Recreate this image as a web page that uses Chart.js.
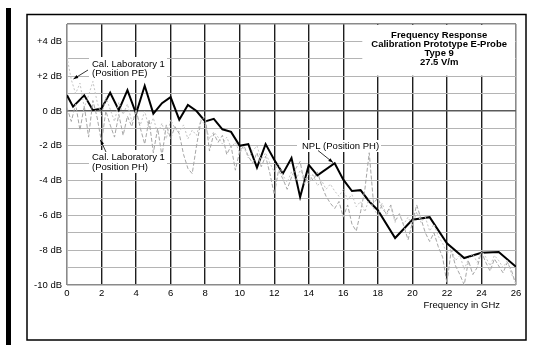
<!DOCTYPE html>
<html>
<head>
<meta charset="utf-8">
<script src="https://cdn.jsdelivr.net/npm/chart.js@4/dist/chart.umd.min.js"></script>
<style>
  html, body { margin: 0; padding: 0; background: #fff; }
  canvas { display: block; }
</style>
</head>
<body>
<canvas id="c" width="537" height="345"></canvas>
<script>
// NPL reference measurement (Position PH)
const nplFreq = [0, 0.35, 1.0, 1.5, 2.0, 2.5, 3.0, 3.5, 4.0, 4.5, 5.0, 5.5, 6.0, 6.5, 7.0, 7.5,
  8.0, 8.5, 9.0, 9.5, 10.0, 10.5, 11.0, 11.5, 12.0, 12.5, 13.0, 13.5, 14.0, 14.5, 15.5,
  16.0, 16.5, 17.0, 17.5, 18.0, 19.0, 20.0, 21.0, 22.0, 23.0, 24.0, 25.0, 26.0];
const nplDb = [0.9, 0.25, 0.9, 0.05, 0.15, 1.05, 0.05, 1.2, -0.15, 1.45, -0.15, 0.45, 0.8, -0.5, 0.35, 0.0,
  -0.6, -0.45, -1.05, -1.2, -2.0, -1.9, -3.25, -1.9, -2.8, -3.6, -2.7, -4.95, -3.1, -3.7, -3.0,
  -3.95, -4.6, -4.55, -5.2, -5.7, -7.3, -6.25, -6.1, -7.6, -8.45, -8.15, -8.1, -8.95];

// Cal. Laboratory 1 sweeps, sampled every 0.25 GHz from 0 to 26 GHz
const calFreq = Array.from({ length: 105 }, (_, i) => i * 0.25);
const calPhDb = [0.2, -0.6, 0.4, -1.1, 0.3, -1.5, 0.6, -0.4, -1.8, 0.0, -0.8, -1.5, -0.2, -1.4, -0.3, -0.9,
  0.1, -1.0, -1.9, -0.5, -2.4, -1.0, -2.6, -0.8, -1.6, -0.9, -1.3, -2.5, -3.3, -3.6, -2.0, -0.6,
  -0.3, -2.3, -1.3, -1.8, -1.4, -2.5, -2.0, -3.4, -2.3, -2.0, -2.6, -3.0, -2.4, -3.2, -2.6, -3.6,
  -4.8, -3.4, -3.9, -4.5, -3.8, -3.3, -2.9, -4.2, -3.6, -4.0, -3.5, -4.3, -4.9, -5.3, -5.6, -5.2,
  -6.1, -5.4, -6.5, -6.9, -5.8, -4.5, -2.4, -5.3, -5.0, -5.6, -5.9, -5.4, -6.3, -5.9, -6.6, -7.4,
  -6.4, -5.4, -6.2, -7.0, -7.5, -7.0, -7.8, -8.4, -9.9, -8.0, -8.9, -9.4, -10.0, -8.6, -9.4, -9.0,
  -8.1, -8.7, -9.2, -8.5, -8.9, -9.3, -8.7, -9.2, -10.0];
const calPeDb = [3.1, 1.8, 1.0, 1.6, 0.2, 0.9, 1.7, 0.5, -0.3, 0.8, 0.1, -0.6, 0.5, -0.2, 0.4, -0.6,
  -0.1, -0.8, 0.0, -1.0, -0.4, -1.3, -0.7, -1.6, -0.5, -1.0, -1.2, -0.8, -1.6, -1.1, -1.4, -0.5,
  -0.8, -1.6, -1.2, -1.5, -1.9, -1.5, -2.1, -1.8, -2.4, -2.1, -2.7, -2.3, -2.0, -2.8, -2.4, -3.0,
  -3.5, -3.0, -3.7, -4.1, -3.5, -4.0, -3.4, -3.8, -4.2, -3.6, -4.3, -4.0, -4.5, -4.2, -4.6, -4.9,
  -4.5, -5.1, -4.8, -5.5, -5.2, -5.8, -5.0, -5.6, -6.0, -5.3, -6.0, -5.5, -6.4, -5.9, -6.5, -6.1,
  -6.6, -5.8, -6.4, -6.1, -6.9, -6.5, -7.2, -7.6, -8.2, -7.9, -8.6, -8.3, -9.1, -8.5, -8.2, -8.7,
  -8.0, -8.4, -8.9, -8.3, -8.6, -9.0, -8.6, -9.4, -9.9];

const titleLines = ['Frequency Response', 'Calibration Prototype E-Probe', 'Type 9', '27.5 V/m'];

const pts = (xs, ys) => xs.map((x, i) => ({ x, y: ys[i] }));

const FONT = '"Liberation Sans", Arial, sans-serif';
Chart.defaults.font.family = FONT;
Chart.defaults.font.size = 9.5;
Chart.defaults.color = '#000';

function arrow(ctx, x1, y1, x2, y2) {
  ctx.save();
  ctx.strokeStyle = '#000';
  ctx.fillStyle = '#000';
  ctx.lineWidth = 0.8;
  ctx.beginPath();
  ctx.moveTo(x1, y1);
  ctx.lineTo(x2, y2);
  ctx.stroke();
  const a = Math.atan2(y2 - y1, x2 - x1);
  ctx.beginPath();
  ctx.moveTo(x2, y2);
  ctx.lineTo(x2 - 5 * Math.cos(a - 0.35), y2 - 5 * Math.sin(a - 0.35));
  ctx.lineTo(x2 - 5 * Math.cos(a + 0.35), y2 - 5 * Math.sin(a + 0.35));
  ctx.closePath();
  ctx.fill();
  ctx.restore();
}

// Page furniture: frame, side bar, title panel, callout labels
const decor = {
  id: 'decor',
  beforeDraw(chart) {
    const ctx = chart.ctx;
    ctx.save();
    ctx.fillStyle = '#fff';
    ctx.fillRect(0, 0, chart.width, chart.height);
    ctx.fillStyle = '#000';
    ctx.fillRect(6, 8, 5, 337);
    ctx.strokeStyle = '#000';
    ctx.lineWidth = 1.5;
    ctx.strokeRect(27, 14.5, 499, 325.5);
    ctx.restore();
  },
  beforeDatasetsDraw(chart) {
    const ctx = chart.ctx;
    const xs = chart.scales.x, ys = chart.scales.y;
    ctx.save();
    ctx.fillStyle = '#fff';
    // title panel
    const tl = xs.getPixelForValue(17.1);
    ctx.fillRect(tl, ys.getPixelForValue(5) + 1, xs.getPixelForValue(26) - tl - 1, ys.getPixelForValue(2) - ys.getPixelForValue(5) - 1.5);
    // label backgrounds
    ctx.fillRect(89, 57, 78, 23);
    ctx.fillRect(89, 150, 78, 23);
    ctx.fillRect(297, 140, 84, 12);
    ctx.restore();
  },
  afterDatasetsDraw(chart) {
    const ctx = chart.ctx;
    const xs = chart.scales.x;
    ctx.save();
    ctx.fillStyle = '#000';
    ctx.font = 'bold 9.5px ' + FONT;
    ctx.textAlign = 'center';
    ctx.textBaseline = 'middle';
    const cx = (xs.getPixelForValue(17.1) + xs.getPixelForValue(26)) / 2;
    titleLines.forEach((t, i) => ctx.fillText(t, cx, 35 + i * 9));

    ctx.font = '9.5px ' + FONT;
    ctx.textAlign = 'left';
    ctx.fillText('Cal. Laboratory 1', 92, 64);
    ctx.fillText('(Position PE)', 92, 73.5);
    ctx.fillText('Cal. Laboratory 1', 92, 157.5);
    ctx.fillText('(Position PH)', 92, 167);
    ctx.fillText('NPL (Position PH)', 302, 146);

    ctx.textAlign = 'right';
    ctx.fillText('Frequency in GHz', 500, 305);
    ctx.restore();

    arrow(ctx, 88, 70, 73.5, 79);
    arrow(ctx, 106, 152, 100.5, 140);
    arrow(ctx, 318, 150.5, 333, 162.5);
  }
};

new Chart(document.getElementById('c'), {
  type: 'line',
  data: {
    datasets: [
      {
        label: 'Cal. Laboratory 1 (Position PE)',
        data: pts(calFreq, calPeDb),
        borderColor: '#c4c4c4',
        borderWidth: 1,
        borderDash: [2, 2],
        pointRadius: 0,
        tension: 0
      },
      {
        label: 'Cal. Laboratory 1 (Position PH)',
        data: pts(calFreq, calPhDb),
        borderColor: '#a6a6a6',
        borderWidth: 1,
        borderDash: [4, 2],
        pointRadius: 0,
        tension: 0
      },
      {
        label: 'NPL (Position PH)',
        data: pts(nplFreq, nplDb),
        borderColor: '#000',
        borderWidth: 2,
        pointRadius: 0,
        tension: 0,
        borderJoinStyle: 'miter'
      }
    ]
  },
  options: {
    responsive: false,
    devicePixelRatio: 1,
    animation: false,
    layout: { padding: { left: 0, right: 21, top: 24, bottom: 0 } },
    plugins: { legend: { display: false }, tooltip: { enabled: false } },
    scales: {
      x: {
        type: 'linear',
        min: 0,
        max: 26,
        afterFit: s => { s.height = 60; },
        border: { display: false },
        grid: {
          drawTicks: false,
          color: c => (c.tick.value === 0 || c.tick.value === 26) ? '#8a8a8a' : '#1e1e1e',
          lineWidth: c => (c.tick.value === 0 || c.tick.value === 26) ? 1.6 : 1.4
        },
        ticks: { stepSize: 2, padding: 3, maxRotation: 0, font: { size: 9.5 } }
      },
      y: {
        min: -10,
        max: 5,
        afterFit: s => { s.width = 67; },
        border: { display: false },
        grid: {
          drawTicks: false,
          color: c => c.tick.value === 0 ? '#5a5a5a' : (c.tick.value === 5 || c.tick.value === -10) ? '#8a8a8a' : '#b4b4b4',
          lineWidth: c => (c.tick.value === 0 || c.tick.value === 5 || c.tick.value === -10) ? 1.5 : 1
        },
        ticks: {
          stepSize: 1,
          padding: 5,
          autoSkip: false,
          font: { size: 9.5 },
          callback: v => (v % 2 !== 0 || v === 5) ? '' : (v > 0 ? '+' + v + ' dB' : v + ' dB')
        }
      }
    }
  },
  plugins: [decor]
});
</script>
</body>
</html>
